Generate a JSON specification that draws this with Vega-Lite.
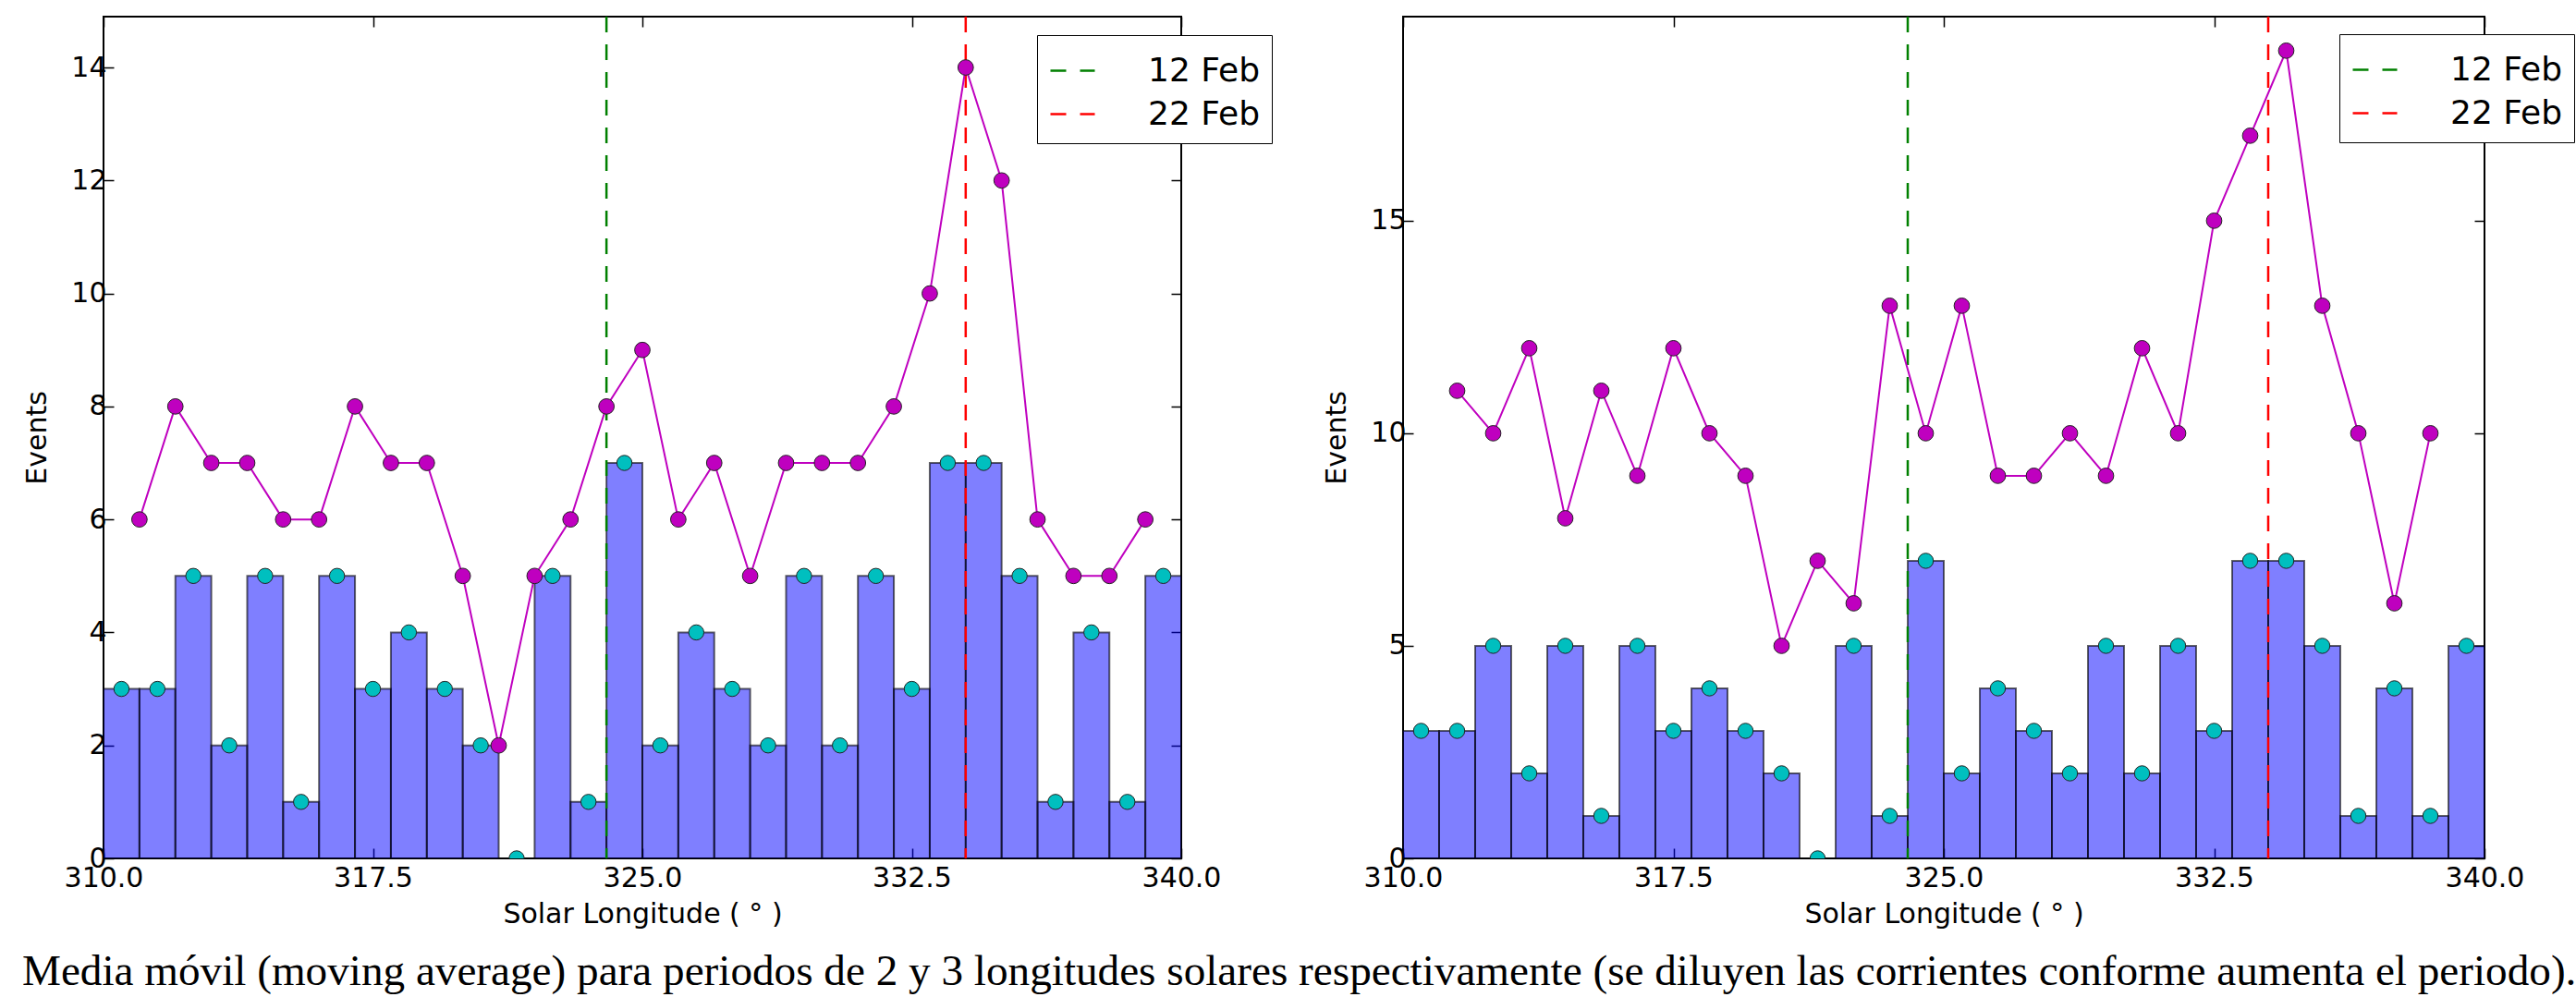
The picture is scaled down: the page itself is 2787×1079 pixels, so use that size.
{
  "$schema": "https://vega.github.io/schema/vega-lite/v6.json",
  "background": "white",
  "padding": {"left": 23, "top": 15, "right": 0, "bottom": 0},
  "config": {
    "view": {"stroke": "black", "strokeWidth": 2},
    "axis": {"labelFont": "DejaVu Sans", "labelFontSize": 30, "labelColor": "black", "titleFont": "DejaVu Sans", "titleFontSize": 30, "titleFontWeight": "normal", "titleColor": "black", "tickColor": "black", "tickSize": -11, "tickWidth": 1.5, "domain": false, "grid": false, "labelPadding": 8, "labelFlush": false},
    "axisBottom": {"labelPadding": 17},
    "legend": {"title": null, "orient": "none", "direction": "vertical", "symbolType": "stroke", "symbolSize": 2304, "symbolStrokeWidth": 2.5, "symbolDash": [17, 15], "labelFont": "DejaVu Sans", "labelFontSize": 36, "labelColor": "black", "labelOffset": 56, "strokeColor": "black", "fillColor": "white", "padding": 13, "rowPadding": 3, "labelLimit": 400}
  },
  "datasets": {
    "bins": [
      {"lo": 310, "hi": 311, "mid": 310.5, "count": 3},
      {"lo": 311, "hi": 312, "mid": 311.5, "count": 3},
      {"lo": 312, "hi": 313, "mid": 312.5, "count": 5},
      {"lo": 313, "hi": 314, "mid": 313.5, "count": 2},
      {"lo": 314, "hi": 315, "mid": 314.5, "count": 5},
      {"lo": 315, "hi": 316, "mid": 315.5, "count": 1},
      {"lo": 316, "hi": 317, "mid": 316.5, "count": 5},
      {"lo": 317, "hi": 318, "mid": 317.5, "count": 3},
      {"lo": 318, "hi": 319, "mid": 318.5, "count": 4},
      {"lo": 319, "hi": 320, "mid": 319.5, "count": 3},
      {"lo": 320, "hi": 321, "mid": 320.5, "count": 2},
      {"lo": 321, "hi": 322, "mid": 321.5, "count": 0},
      {"lo": 322, "hi": 323, "mid": 322.5, "count": 5},
      {"lo": 323, "hi": 324, "mid": 323.5, "count": 1},
      {"lo": 324, "hi": 325, "mid": 324.5, "count": 7},
      {"lo": 325, "hi": 326, "mid": 325.5, "count": 2},
      {"lo": 326, "hi": 327, "mid": 326.5, "count": 4},
      {"lo": 327, "hi": 328, "mid": 327.5, "count": 3},
      {"lo": 328, "hi": 329, "mid": 328.5, "count": 2},
      {"lo": 329, "hi": 330, "mid": 329.5, "count": 5},
      {"lo": 330, "hi": 331, "mid": 330.5, "count": 2},
      {"lo": 331, "hi": 332, "mid": 331.5, "count": 5},
      {"lo": 332, "hi": 333, "mid": 332.5, "count": 3},
      {"lo": 333, "hi": 334, "mid": 333.5, "count": 7},
      {"lo": 334, "hi": 335, "mid": 334.5, "count": 7},
      {"lo": 335, "hi": 336, "mid": 335.5, "count": 5},
      {"lo": 336, "hi": 337, "mid": 336.5, "count": 1},
      {"lo": 337, "hi": 338, "mid": 337.5, "count": 4},
      {"lo": 338, "hi": 339, "mid": 338.5, "count": 1},
      {"lo": 339, "hi": 340, "mid": 339.5, "count": 5}
    ],
    "ma2": [
      {"sl": 311, "events": 6}, {"sl": 312, "events": 8}, {"sl": 313, "events": 7}, {"sl": 314, "events": 7},
      {"sl": 315, "events": 6}, {"sl": 316, "events": 6}, {"sl": 317, "events": 8}, {"sl": 318, "events": 7},
      {"sl": 319, "events": 7}, {"sl": 320, "events": 5}, {"sl": 321, "events": 2}, {"sl": 322, "events": 5},
      {"sl": 323, "events": 6}, {"sl": 324, "events": 8}, {"sl": 325, "events": 9}, {"sl": 326, "events": 6},
      {"sl": 327, "events": 7}, {"sl": 328, "events": 5}, {"sl": 329, "events": 7}, {"sl": 330, "events": 7},
      {"sl": 331, "events": 7}, {"sl": 332, "events": 8}, {"sl": 333, "events": 10}, {"sl": 334, "events": 14},
      {"sl": 335, "events": 12}, {"sl": 336, "events": 6}, {"sl": 337, "events": 5}, {"sl": 338, "events": 5},
      {"sl": 339, "events": 6}
    ],
    "ma3": [
      {"sl": 311.5, "events": 11}, {"sl": 312.5, "events": 10}, {"sl": 313.5, "events": 12}, {"sl": 314.5, "events": 8},
      {"sl": 315.5, "events": 11}, {"sl": 316.5, "events": 9}, {"sl": 317.5, "events": 12}, {"sl": 318.5, "events": 10},
      {"sl": 319.5, "events": 9}, {"sl": 320.5, "events": 5}, {"sl": 321.5, "events": 7}, {"sl": 322.5, "events": 6},
      {"sl": 323.5, "events": 13}, {"sl": 324.5, "events": 10}, {"sl": 325.5, "events": 13}, {"sl": 326.5, "events": 9},
      {"sl": 327.5, "events": 9}, {"sl": 328.5, "events": 10}, {"sl": 329.5, "events": 9}, {"sl": 330.5, "events": 12},
      {"sl": 331.5, "events": 10}, {"sl": 332.5, "events": 15}, {"sl": 333.5, "events": 17}, {"sl": 334.5, "events": 19},
      {"sl": 335.5, "events": 13}, {"sl": 336.5, "events": 10}, {"sl": 337.5, "events": 6}, {"sl": 338.5, "events": 10}
    ],
    "dates": [
      {"date": "12 Feb", "sl": 324},
      {"date": "22 Feb", "sl": 334}
    ]
  },
  "title": {
    "text": "Media móvil (moving average) para periodos de 2 y 3 longitudes solares respectivamente (se diluyen las corrientes conforme aumenta el periodo).",
    "orient": "bottom", "anchor": "middle", "font": "Liberation Serif", "fontSize": 47.2, "fontWeight": "normal", "color": "black", "offset": 24, "limit": 0
  },
  "spacing": 52,
  "resolve": {"scale": {"x": "independent", "y": "independent", "color": "independent"}, "legend": {"color": "independent"}},
  "hconcat": [
    {
      "width": 1166, "height": 911,
      "resolve": {"axis": {"x": "independent", "y": "independent"}},
      "layer": [
        {
          "data": {"name": "bins"},
          "mark": {"type": "rect", "fill": "#0000ff", "fillOpacity": 0.5, "stroke": "black", "strokeOpacity": 0.6, "strokeWidth": 2},
          "encoding": {
            "x": {"field": "lo", "type": "quantitative", "scale": {"domain": [310, 340], "nice": false, "zero": false},
                  "axis": {"orient": "bottom", "values": [310, 317.5, 325, 332.5, 340], "format": ".1f", "title": "Solar Longitude ( ° )", "titlePadding": 9}},
            "x2": {"field": "hi"},
            "y": {"field": "count", "type": "quantitative", "scale": {"domain": [0, 14.9], "nice": false},
                  "axis": {"orient": "left", "values": [0, 2, 4, 6, 8, 10, 12, 14], "title": "Events", "titlePadding": 21}},
            "y2": {"datum": 0}
          }
        },
        {
          "mark": {"type": "rule", "color": "#ff0000", "strokeWidth": 3},
          "encoding": {"y": {"datum": 7, "type": "quantitative", "axis": null}}
        },
        {
          "data": {"name": "dates"},
          "mark": {"type": "rule", "strokeDash": [17, 13], "strokeWidth": 2.5},
          "encoding": {
            "x": {"field": "sl", "type": "quantitative", "axis": null},
            "color": {"field": "date", "type": "nominal", "scale": {"domain": ["12 Feb", "22 Feb"], "range": ["#008000", "#ff0000"]},
                      "legend": {"legendX": 1010, "legendY": 20}}
          }
        },
        {
          "data": {"name": "ma2"},
          "mark": {"type": "line", "color": "#bf00bf", "strokeWidth": 2},
          "encoding": {
            "x": {"field": "sl", "type": "quantitative", "axis": null},
            "y": {"field": "events", "type": "quantitative", "axis": null}
          }
        },
        {
          "data": {"name": "ma2"},
          "mark": {"type": "point", "shape": "circle", "filled": true, "fill": "#bf00bf", "stroke": "#222222", "strokeWidth": 1, "size": 280, "opacity": 1},
          "encoding": {
            "x": {"field": "sl", "type": "quantitative", "axis": null},
            "y": {"field": "events", "type": "quantitative", "axis": null}
          }
        },
        {
          "data": {"name": "bins"},
          "mark": {"type": "point", "shape": "circle", "filled": true, "fill": "#00bfbf", "stroke": "#222222", "strokeWidth": 1, "size": 270, "opacity": 1, "clip": true},
          "encoding": {
            "x": {"field": "mid", "type": "quantitative", "axis": {"orient": "top", "labels": false, "title": null, "values": [310, 317.5, 325, 332.5, 340]}},
            "y": {"field": "count", "type": "quantitative", "axis": {"orient": "right", "labels": false, "title": null, "values": [0, 2, 4, 6, 8, 10, 12, 14]}}
          }
        }
      ]
    },
    {
      "width": 1170, "height": 911,
      "resolve": {"axis": {"x": "independent", "y": "independent"}},
      "layer": [
        {
          "data": {"name": "bins"},
          "mark": {"type": "rect", "fill": "#0000ff", "fillOpacity": 0.5, "stroke": "black", "strokeOpacity": 0.6, "strokeWidth": 2},
          "encoding": {
            "x": {"field": "lo", "type": "quantitative", "scale": {"domain": [310, 340], "nice": false, "zero": false},
                  "axis": {"orient": "bottom", "values": [310, 317.5, 325, 332.5, 340], "format": ".1f", "title": "Solar Longitude ( ° )", "titlePadding": 9}},
            "x2": {"field": "hi"},
            "y": {"field": "count", "type": "quantitative", "scale": {"domain": [0, 19.8], "nice": false},
                  "axis": {"orient": "left", "values": [0, 5, 10, 15], "title": "Events", "titlePadding": 21}},
            "y2": {"datum": 0}
          }
        },
        {
          "mark": {"type": "rule", "color": "#ff0000", "strokeWidth": 3},
          "encoding": {"y": {"datum": 10.5, "type": "quantitative", "axis": null}}
        },
        {
          "data": {"name": "dates"},
          "mark": {"type": "rule", "strokeDash": [17, 13], "strokeWidth": 2.5},
          "encoding": {
            "x": {"field": "sl", "type": "quantitative", "axis": null},
            "color": {"field": "date", "type": "nominal", "scale": {"domain": ["12 Feb", "22 Feb"], "range": ["#008000", "#ff0000"]},
                      "legend": {"legendX": 1013, "legendY": 19}}
          }
        },
        {
          "data": {"name": "ma3"},
          "mark": {"type": "line", "color": "#bf00bf", "strokeWidth": 2},
          "encoding": {
            "x": {"field": "sl", "type": "quantitative", "axis": null},
            "y": {"field": "events", "type": "quantitative", "axis": null}
          }
        },
        {
          "data": {"name": "ma3"},
          "mark": {"type": "point", "shape": "circle", "filled": true, "fill": "#bf00bf", "stroke": "#222222", "strokeWidth": 1, "size": 280, "opacity": 1},
          "encoding": {
            "x": {"field": "sl", "type": "quantitative", "axis": null},
            "y": {"field": "events", "type": "quantitative", "axis": null}
          }
        },
        {
          "data": {"name": "bins"},
          "mark": {"type": "point", "shape": "circle", "filled": true, "fill": "#00bfbf", "stroke": "#222222", "strokeWidth": 1, "size": 270, "opacity": 1, "clip": true},
          "encoding": {
            "x": {"field": "mid", "type": "quantitative", "axis": {"orient": "top", "labels": false, "title": null, "values": [310, 317.5, 325, 332.5, 340]}},
            "y": {"field": "count", "type": "quantitative", "axis": {"orient": "right", "labels": false, "title": null, "values": [0, 5, 10, 15]}}
          }
        }
      ]
    }
  ]
}
